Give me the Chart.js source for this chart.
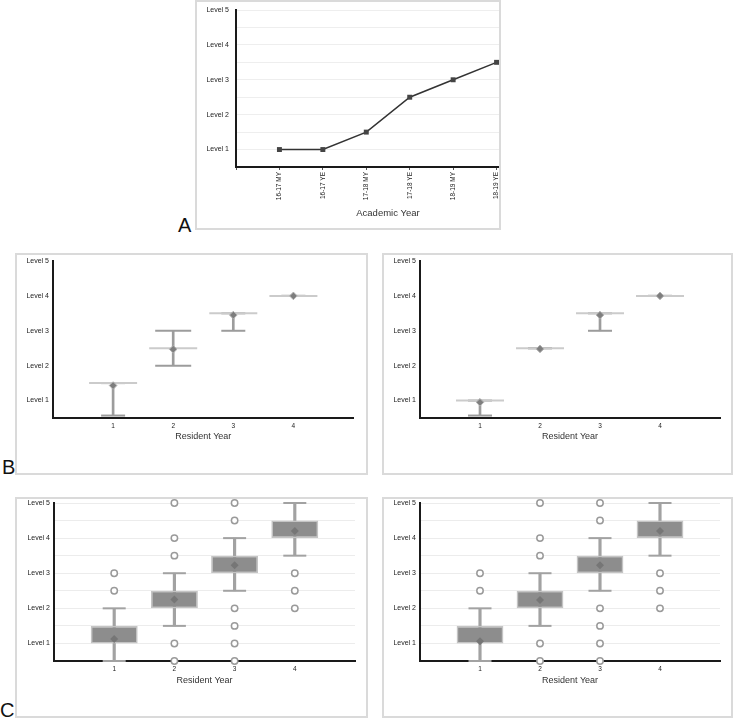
<!DOCTYPE html>
<html>
<head>
<meta charset="utf-8">
<script src="https://cdn.jsdelivr.net/npm/chart.js@4.4.0/dist/chart.umd.min.js"></script>
<style>
  body { margin: 0; background: #fff; font-family: "Liberation Sans", Arial, sans-serif; }
  .page { position: relative; width: 736px; height: 719px; overflow: hidden; }
  .panel { position: absolute; box-sizing: border-box; border: 2px solid #dadada; overflow: hidden; background: #fff; }
  .panel canvas { position: absolute; left: 0; top: 0; }
  .tag { position: absolute; font-size: 20px; line-height: 1; color: #111; }
</style>
</head>
<body>
<div class="page">
  <div class="panel" style="left:195px; top:0; width:306px; height:230px;"><canvas id="chartA" width="360" height="226"></canvas></div>
  <div class="tag" style="left:178px; top:215px;">A</div>

  <div class="panel" style="left:15px; top:253px; width:353px; height:222px;"><canvas id="chartB1" width="349" height="218"></canvas></div>
  <div class="panel" style="left:382px; top:253px; width:351px; height:222px;"><canvas id="chartB2" width="347" height="218"></canvas></div>
  <div class="tag" style="left:2px; top:457px;">B</div>

  <div class="panel" style="left:15px; top:497px; width:353px; height:221px;"><canvas id="chartC1" width="349" height="217"></canvas></div>
  <div class="panel" style="left:382px; top:497px; width:351px; height:221px;"><canvas id="chartC2" width="347" height="217"></canvas></div>
  <div class="tag" style="left:0px; top:700px;">C</div>
</div>

<script>
// ---- data ----
const levelLabels = ['Level 1', 'Level 2', 'Level 3', 'Level 4', 'Level 5'];

// A: milestone level by academic year
const academicYears = ['16-17 MY', '16-17 YE', '17-18 MY', '17-18 YE', '18-19 MY', '18-19 YE'];
const levelsA = [1, 1, 1.5, 2.5, 3, 3.5];

// B: mean, centre line and whisker range per resident year
const residentYears = [1, 2, 3, 4];
const b1Means = [1.43, 2.47, 3.45, 4.0];
const b1Centers = [1.5, 2.5, 3.5, 4.0];
const b1Low = [0.57, 2.0, 3.0, 4.0];
const b1High = [1.5, 3.0, 3.5, 4.0];

const b2Means = [0.95, 2.48, 3.45, 4.0];
const b2Centers = [1.0, 2.5, 3.5, 4.0];
const b2Low = [0.57, 2.5, 3.0, 4.0];
const b2High = [1.0, 2.5, 3.5, 4.0];

// C: box plots per resident year
const c1BoxLow = [1.0, 2.0, 3.0, 4.0];
const c1BoxHigh = [1.5, 2.5, 3.5, 4.5];
const c1WhiskerLow = [0.5, 1.5, 2.5, 3.5];
const c1WhiskerHigh = [2.0, 3.0, 4.0, 5.0];
const c1Means = [1.13, 2.25, 3.23, 4.2];
const c1Outliers = [[2.5, 3], [0.5, 1, 3.5, 4, 5], [0.5, 1, 1.5, 2, 4.5, 5], [2, 2.5, 3]];

const c2BoxLow = [1.0, 2.0, 3.0, 4.0];
const c2BoxHigh = [1.5, 2.5, 3.5, 4.5];
const c2WhiskerLow = [0.5, 1.5, 2.5, 3.5];
const c2WhiskerHigh = [2.0, 3.0, 4.0, 5.0];
const c2Means = [1.06, 2.24, 3.23, 4.2];
const c2Outliers = [[2.5, 3], [0.5, 1, 3.5, 4, 5], [0.5, 1, 1.5, 2, 4.5, 5], [2, 2.5, 3]];

// ---- helpers ----
const TEXT = '#222';
const AXIS = '#1a1a1a';
const font = size => ({ family: '"Liberation Sans", Arial, sans-serif', size });
const levelTick = v => (Number.isInteger(v) ? levelLabels[v - 1] : '');
const pts = vals => residentYears.map((x, i) => ({ x, y: vals[i] }));
const ranges = (lo, hi) => residentYears.map((x, i) => ({ x, y: [lo[i], hi[i]] }));

// fixed axis boxes so the plot area lands where the figure has it
const fixHeight = h => s => { s.height = h; s.paddingLeft = 0; s.paddingRight = 0; };
const fixWidth = w => s => { s.width = w; s.paddingTop = 0; s.paddingBottom = 0; };

const baseOptions = {
    responsive: false,
    animation: false,
    events: [],
    plugins: { legend: { display: false }, tooltip: { enabled: false } }
};

function yearScales(yWidth, gridColor, titlePad) {
    return {
        x: {
            type: 'linear', min: 0, max: 5, z: 1, offset: false,
            grid: { display: false, drawTicks: false, offset: false },
            border: { color: AXIS, width: 2 },
            ticks: { padding: 4, color: TEXT, font: font(6.5) },
            afterBuildTicks: s => { s.ticks = residentYears.map(v => ({ value: v })); },
            title: { display: true, text: 'Resident Year', color: '#333', font: font(9), padding: { top: 0, bottom: titlePad } },
            afterFit: fixHeight(55)
        },
        y: {
            type: 'linear', min: 0.5, max: 5,
            grid: { display: !!gridColor, color: gridColor || 'transparent', drawTicks: false },
            border: { color: AXIS, width: 2 },
            ticks: { stepSize: 0.5, autoSkip: false, padding: 4, color: TEXT, font: font(7), callback: levelTick },
            afterFit: fixWidth(yWidth)
        }
    };
}

// ---- A: line chart ----
new Chart(document.getElementById('chartA'), {
    type: 'line',
    data: {
        labels: ['', ...academicYears, ''],
        datasets: [{
            data: [null, ...levelsA, null],
            borderColor: '#333',
            borderWidth: 1.5,
            tension: 0,
            pointStyle: 'rect',
            pointRadius: 3.5,
            pointBackgroundColor: '#444',
            pointBorderWidth: 0,
            clip: false
        }]
    },
    options: {
        ...baseOptions,
        layout: { autoPadding: false, padding: { top: 8, right: 17, left: 0, bottom: 0 } },
        scales: {
            x: {
                offset: false,
                grid: { drawOnChartArea: false, tickLength: 3, tickColor: '#555' },
                border: { color: AXIS, width: 2 },
                ticks: { autoSkip: false, minRotation: 90, maxRotation: 90, padding: 2, color: TEXT, font: font(6.5) },
                title: { display: true, text: 'Academic Year', color: '#333', font: font(9.5), padding: { top: 0, bottom: 9.3 } },
                afterFit: fixHeight(61)
            },
            y: {
                min: 0.5, max: 5,
                grid: { color: '#eeeeee', drawTicks: false },
                border: { color: AXIS, width: 2 },
                ticks: { stepSize: 0.5, autoSkip: false, padding: 7, color: TEXT, font: font(7), callback: levelTick },
                afterFit: fixWidth(39)
            }
        }
    }
});

// ---- B: mean with range whiskers ----
function errorPanel(id, means, centers, low, high, wideCapYears, yWidth, rightPad) {
    new Chart(document.getElementById(id), {
        type: 'scatter',
        data: {
            datasets: [
                { type: 'scatter', data: pts(means), pointStyle: 'rectRot', pointRadius: 3.8,
                  backgroundColor: '#7e7e7e', borderColor: '#b0b0b0', borderWidth: 1, clip: false },
                { type: 'scatter', data: pts(centers), pointStyle: 'line', pointRadius: 24,
                  borderColor: '#cbcbcb', borderWidth: 2, clip: false },
                { type: 'scatter', data: [...pts(low), ...pts(high)], pointStyle: 'line',
                  pointRadius: ctx => (ctx.raw && wideCapYears.includes(ctx.raw.x) ? 18 : 12),
                  borderColor: '#9c9c9c', borderWidth: 2, clip: false },
                { type: 'bar', data: ranges(low, high), barThickness: 2, grouped: false,
                  backgroundColor: '#9c9c9c', borderWidth: 0 }
            ]
        },
        options: {
            ...baseOptions,
            layout: { autoPadding: false, padding: { top: 6, right: rightPad, left: 0, bottom: 0 } },
            scales: yearScales(yWidth, null, 30.6)
        }
    });
}

errorPanel('chartB1', b1Means, b1Centers, b1Low, b1High, [2], 36, 12.5);
errorPanel('chartB2', b2Means, b2Centers, b2Low, b2High, [], 36, 11);

// ---- C: box plots ----
function boxPanel(id, boxLow, boxHigh, wLow, wHigh, means, outliers, yWidth, rightPad) {
    const outlierPts = outliers.flatMap((vals, i) => vals.map(y => ({ x: residentYears[i], y })));
    new Chart(document.getElementById(id), {
        type: 'scatter',
        data: {
            datasets: [
                { type: 'scatter', data: pts(means), pointStyle: 'rectRot', pointRadius: 4,
                  backgroundColor: '#767676', borderColor: '#767676', borderWidth: 0, clip: false },
                { type: 'scatter', data: outlierPts, pointStyle: 'circle', pointRadius: 3.2,
                  backgroundColor: '#fff', borderColor: '#9a9a9a', borderWidth: 1.5, clip: false },
                { type: 'bar', data: ranges(boxLow, boxHigh), grouped: false, barPercentage: 0.78, categoryPercentage: 1,
                  backgroundColor: '#8d8d8d', borderColor: '#c4c4c4', borderWidth: 1.5, borderSkipped: false },
                { type: 'scatter', data: [...pts(wLow), ...pts(wHigh)], pointStyle: 'line', pointRadius: 11.5,
                  borderColor: '#a2a2a2', borderWidth: 2, clip: false },
                { type: 'bar', data: ranges(wLow, wHigh), barThickness: 2.5, grouped: false,
                  backgroundColor: '#a2a2a2', borderWidth: 0 }
            ]
        },
        options: {
            ...baseOptions,
            layout: { autoPadding: false, padding: { top: 4, right: rightPad, left: 0, bottom: 0 } },
            scales: yearScales(yWidth, '#ececec', 29.6)
        }
    });
}

boxPanel('chartC1', c1BoxLow, c1BoxHigh, c1WhiskerLow, c1WhiskerHigh, c1Means, c1Outliers, 37, 11);
boxPanel('chartC2', c2BoxLow, c2BoxHigh, c2WhiskerLow, c2WhiskerHigh, c2Means, c2Outliers, 36, 11);
</script>
</body>
</html>
